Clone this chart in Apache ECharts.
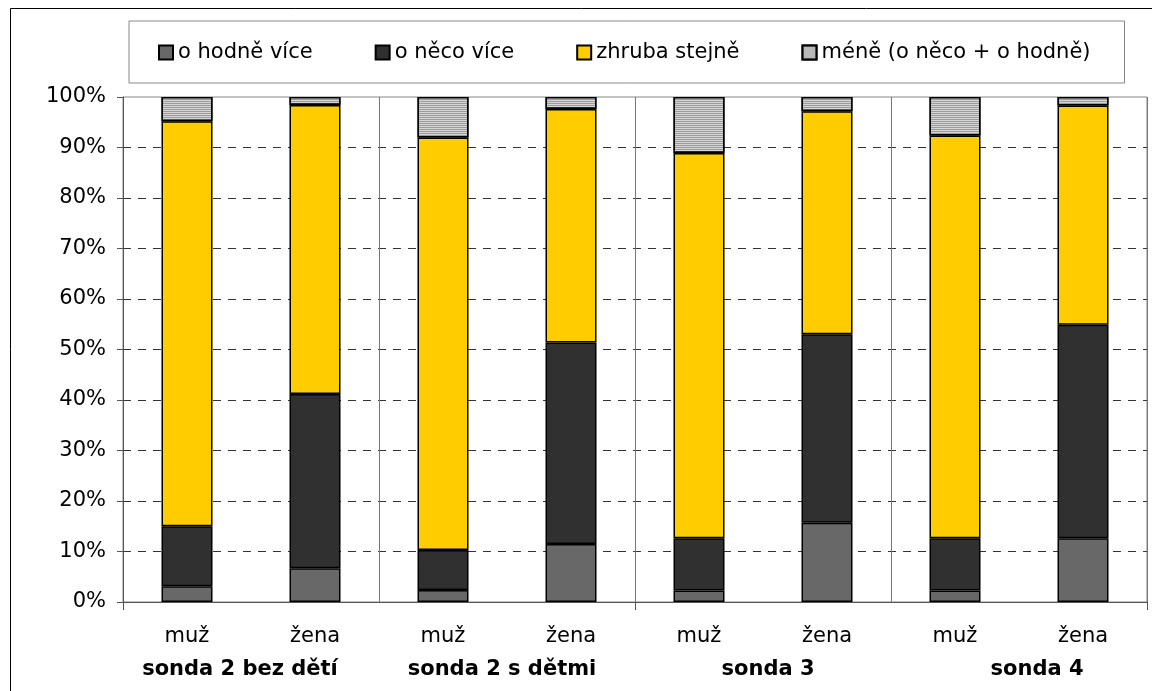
<!DOCTYPE html>
<html><head><meta charset="utf-8">
<script src="https://cdn.jsdelivr.net/npm/echarts@6/dist/echarts.min.js"></script>
<style>html,body{margin:0;padding:0;background:#fff}#c{width:1152px;height:691px}</style>
</head><body><div id="c"></div>
<script>
const categories = ['muž', 'žena', 'muž', 'žena', 'muž', 'žena', 'muž', 'žena'];
const groups = ['sonda 2 bez dětí', 'sonda 2 s dětmi', 'sonda 3', 'sonda 4'];
const seriesNames = ['o hodně více', 'o něco více', 'zhruba stejně', 'méně (o něco + o hodně)'];
const hodneVice = [3.1, 6.7, 2.4, 11.5, 2.3, 15.7, 2.3, 12.6];
const necoVice = [11.9, 34.5, 7.9, 39.9, 10.3, 37.3, 10.3, 42.3];
const zhrubaStejne = [80.2, 57.2, 81.7, 46.2, 76.3, 44.2, 79.8, 43.4];
const mene = [4.8, 1.6, 8.0, 2.4, 11.1, 2.8, 7.6, 1.7];
const yMin = 0, yMax = 100, yStep = 10;

const FONT = 'DejaVu Sans';
const chart = echarts.init(document.getElementById('c'), null, {renderer: 'canvas'});
const groupShift = [[0, 22, 0, 0], [0, 10, 0, 0], [0, 0, 0, 10], [0, 0, 0, 36]];
const rich = {};
groupShift.forEach((p, i) => {
  rich['g' + i] = {padding: p, fontSize: 21, fontWeight: 'bold', fontFamily: FONT, color: '#000'};
});
const seriesData = [hodneVice, necoVice, zhrubaStejne, mene];
const colors = ['#686868', '#303030', '#FFCC00', '#9a9a9a'];
const series = seriesNames.map((n, i) => ({
  name: n,
  type: 'bar',
  stack: 'total',
  barWidth: 51,
  data: seriesData[i],
  itemStyle: Object.assign({
    color: colors[i],
    borderColor: '#000',
    borderWidth: 1.5
  }, i === 3 ? {decal: {symbol: 'rect', symbolSize: 1, dashArrayX: [[1, 0]], dashArrayY: [1, 1], rotation: 0, color: '#d6d6d6'}} : {})
}));

chart.setOption({
  animation: false,
  backgroundColor: '#fff',
  textStyle: {fontFamily: FONT},
  graphic: [{
    type: 'polyline',
    shape: {points: [[10.5, 691], [10.5, 8.5], [1152, 8.5]]},
    style: {stroke: '#000', fill: null, lineWidth: 1},
    silent: true
  }],
  legend: {
    data: seriesNames,
    left: 129, top: 21,
    itemGap: 62, itemWidth: 14, itemHeight: 14,
    padding: [21, 34, 20, 29],
    borderColor: '#888', borderWidth: 1,
    icon: 'rect',
    textStyle: {fontSize: 21, fontFamily: FONT, color: '#000'},
    selectedMode: false
  },
  grid: {left: 123, right: 5, top: 97, bottom: 89, show: true, borderColor: '#888', borderWidth: 1, backgroundColor: 'transparent'},
  xAxis: [{
    type: 'category',
    data: categories,
    position: 'bottom',
    axisLine: {show: true, lineStyle: {color: '#555', width: 1}},
    axisTick: {show: true, length: 8, interval: (i) => i % 4 === 0, lineStyle: {color: '#555'}},
    axisLabel: {interval: 0, color: '#000', fontSize: 21, fontFamily: FONT, margin: 24},
    splitLine: {show: true, interval: (i) => i === 2 || i === 4 || i === 6, lineStyle: {color: '#777', width: 1}}
  }, {
    type: 'category',
    data: groups,
    position: 'bottom',
    offset: 33,
    axisLine: {show: false},
    axisTick: {show: false},
    splitLine: {show: false},
    axisLabel: {
      interval: 0, margin: 24, fontSize: 21, fontWeight: 'bold', fontFamily: FONT, color: '#000',
      formatter: (v, i) => '{g' + i + '|' + v + '}',
      rich: rich
    }
  }],
  yAxis: [{
    type: 'value',
    min: yMin, max: yMax, interval: yStep,
    axisLine: {show: true, lineStyle: {color: '#555'}},
    axisTick: {show: true, length: 6, lineStyle: {color: '#555'}},
    axisLabel: {formatter: '{value}%', fontSize: 21, fontFamily: FONT, color: '#000', margin: 17},
    splitLine: {show: true, showMinLine: false, showMaxLine: false, lineStyle: {type: [8, 7], color: '#333', width: 1}}
  }],
  series: series
});
</script>
</body></html>
